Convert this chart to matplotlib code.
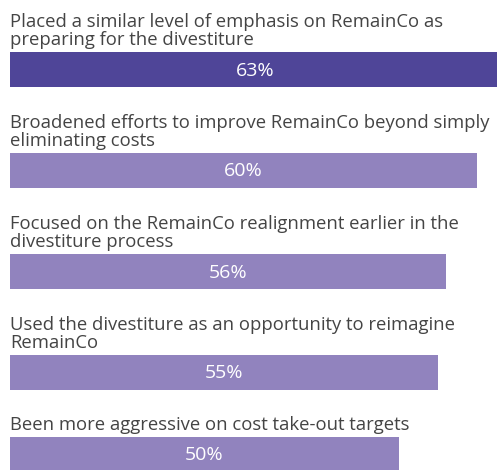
import matplotlib.pyplot as plt

# ---données---
labels = [
    "Placed a similar level of emphasis on RemainCo as\npreparing for the divestiture",
    "Broadened efforts to improve RemainCo beyond simply\neliminating costs",
    "Focused on the RemainCo realignment earlier in the\ndivestiture process",
    "Used the divestiture as an opportunity to reimagine\nRemainCo",
    "Been more aggressive on cost take-out targets",
]
values = [63, 60, 56, 55, 50]
colors = ["#4f4598", "#9183be", "#9183be", "#9183be", "#9183be"]

W, H = 497, 470
fig = plt.figure(figsize=(W / 100, H / 100), dpi=100)
ax = fig.add_axes([10 / W, 0, (W - 10) / W, 1])
ax.set_xlim(0, (W - 10) / 7.78)   # 7.78 px par point de %
ax.set_ylim(H, 0)                 # axe y en pixels, vers le bas
ax.axis("off")

bar_h = 35
line_h = 19
top = 52
for i, (lab, v) in enumerate(zip(labels, values)):
    n = lab.count("\n") + 1
    if i > 0:
        top += bar_h + 28 + n * line_h
    ax.barh(top + bar_h / 2, v, height=bar_h, color=colors[i], left=0)
    ax.text(0, top - 3, lab, ha="left", va="bottom", fontsize=13.3,
            color="#444444", family="Open Sans", linespacing=1.02)
    ax.text(v / 2, top + bar_h / 2 + 1, f"{v}%", ha="center", va="center",
            fontsize=14, color="white", family="Open Sans")

fig.savefig("out.png", dpi=100)
